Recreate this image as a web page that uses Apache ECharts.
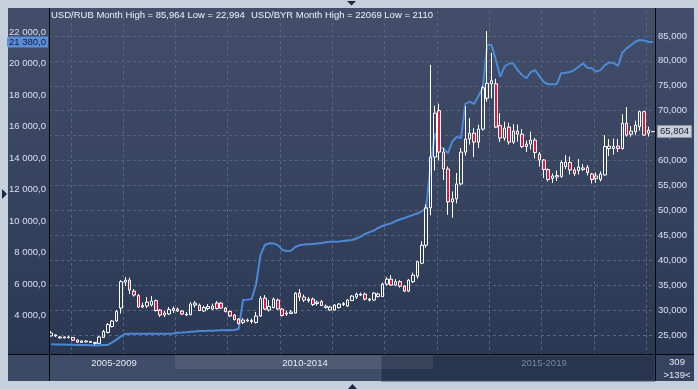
<!DOCTYPE html>
<html><head><meta charset="utf-8">
<script src="https://cdn.jsdelivr.net/npm/echarts@6/dist/echarts.min.js"></script>
<style>html,body{margin:0;padding:0;background:#c6d0dc;}#c{width:698px;height:389px;}</style>
</head><body><div id="c"></div>
<script>
// Months: Sep 2007 .. Mar 2019 (139 bars)
const startYear = 2007, startMonth = 9, barCount = 139;
const months = [];
for (let i = 0; i < barCount; i++) {
  const m = startMonth - 1 + i;
  const y = startYear + Math.floor(m / 12), mm = (m % 12) + 1;
  months.push(y + '-' + (mm < 10 ? '0' : '') + mm);
}
// USD/RUB monthly candles (right axis)
const rubOpen = [24.8,24.8,24.4,24.4,24.5,24.5,24.0,23.5,23.6,23.5,
23.3,23.3,24.5,25.5,26.7,27.8,30.4,35.6,36.0,33.8,
32.9,30.6,30.8,31.0,31.9,30.0,29.0,29.2,29.9,30.2,
29.8,29.0,29.1,31.0,31.0,29.8,30.3,30.2,31.4,31.4,
30.4,29.7,29.0,28.2,27.5,27.8,27.7,27.5,28.8,32.4,
30.0,30.5,32.0,30.2,29.2,29.3,29.4,33.4,32.0,31.9,
32.2,31.3,31.7,30.5,30.0,30.0,30.5,31.1,30.8,31.9,
32.6,33.0,33.2,32.2,32.0,32.7,32.7,35.2,36.2,35.0,
35.7,34.8,33.8,35.7,36.8,39.4,43.0,50.5,60.7,70.0,
61.7,58.3,51.7,52.3,55.3,61.7,64.3,65.5,63.7,66.3,
72.5,75.4,75.4,67.0,64.5,66.7,63.7,65.9,65.3,62.8,
63.3,64.1,61.3,60.1,58.2,56.4,56.7,56.8,58.8,59.6,
58.1,58.0,58.2,58.6,57.3,56.4,56.2,57.1,62.4,62.4,
62.9,62.4,67.5,65.3,65.8,66.8,69.8,65.5,65.8];
const rubClose = [25.4,25.0,24.6,24.6,24.6,23.95,23.55,23.8,23.8,23.7,
23.5,24.6,25.7,27.1,27.8,29.7,35.7,36.0,34.0,33.0,
30.6,30.9,31.6,31.8,29.9,29.0,29.4,30.1,30.3,29.8,
29.2,29.2,31.2,31.4,29.9,30.5,30.7,30.8,30.3,30.4,
29.7,28.8,28.1,27.3,28.0,28.0,27.9,28.8,32.3,30.2,
30.7,32.2,30.2,28.9,29.4,29.6,33.4,32.6,32.6,32.2,
31.1,31.6,30.9,30.8,30.6,31.0,31.2,31.3,32.0,32.8,
33.2,33.2,32.2,32.0,33.4,33.2,35.2,36.2,35.0,35.7,
34.8,33.8,36.0,37.0,39.7,43.0,50.5,60.7,69.5,61.7,
58.3,51.7,52.3,55.3,61.7,64.3,65.5,63.7,66.3,74.6,
75.5,76.0,66.7,64.5,66.5,63.7,65.9,65.3,62.8,63.3,
64.1,61.6,60.1,58.2,56.2,56.9,57.0,59.6,59.7,58.1,
57.4,58.7,58.5,57.6,56.2,56.9,57.3,62.8,62.9,62.8,
62.4,67.5,65.1,65.9,67.1,69.8,65.1,66.1,65.804];
const rubLow = [24.7,24.6,24.3,24.3,24.3,23.8,23.4,23.4,23.5,23.4,
22.994,23.2,24.4,25.3,26.5,27.6,29.3,34.8,33.2,32.7,
30.4,30.4,30.4,30.7,29.7,28.6,28.6,29.0,29.4,29.6,
29.0,28.8,28.9,30.5,29.8,29.6,30.0,30.0,30.1,30.2,
29.5,28.6,27.9,27.1,27.2,27.6,27.3,27.3,28.6,30.0,
29.7,30.3,30.0,28.7,28.8,29.2,29.3,31.8,31.6,31.5,
30.8,30.9,30.8,30.3,29.8,29.9,30.3,30.8,30.6,31.8,
32.2,32.8,31.9,31.7,31.8,32.5,32.6,34.9,34.9,34.8,
34.5,33.6,33.6,35.4,36.3,39.2,42.5,49.0,58.0,60.0,
56.1,49.1,48.5,51.4,55.0,61.0,63.2,60.7,62.5,66.0,
71.8,72.5,66.5,63.7,64.0,63.2,63.3,63.8,62.5,61.7,
62.2,60.4,58.8,56.5,55.8,55.5,55.9,56.5,58.3,57.2,
56.9,57.2,57.9,57.0,55.4,55.5,55.8,57.0,60.9,61.2,
61.7,62.2,64.8,64.8,65.1,66.0,65.0,64.8,65.75];
const rubHigh = [25.8,25.1,24.8,24.7,24.8,24.6,24.1,23.9,23.9,23.8,
23.6,24.8,26.0,27.4,28.0,30.0,36.0,36.6,36.5,34.2,
33.2,31.5,32.6,32.8,32.1,30.2,29.8,30.6,30.7,30.5,
30.0,29.6,31.6,31.8,31.3,30.9,31.2,31.3,31.8,31.6,
30.6,29.9,29.2,28.4,28.4,28.3,28.3,29.6,32.8,33.0,
32.0,32.5,32.3,30.4,29.9,30.0,33.6,34.2,33.1,32.6,
32.5,31.9,32.0,31.1,30.8,31.2,31.4,31.6,32.2,33.0,
33.5,33.5,33.5,32.4,33.6,33.5,35.5,36.6,37.0,36.2,
36.0,35.0,36.2,37.5,39.9,43.8,51.2,79.2,71.0,71.4,
62.5,58.8,53.8,57.5,62.5,70.9,68.5,66.5,67.2,75.0,
85.964,81.6,76.4,69.5,67.8,67.6,67.3,67.2,66.3,64.0,
65.8,64.5,61.7,60.3,58.4,57.4,58.0,60.0,61.1,60.8,
58.6,60.3,59.3,59.1,57.5,57.6,57.8,65.1,64.3,64.4,
64.3,69.3,70.7,66.9,68.0,70.0,69.9,66.8,65.85];
// USD/BYR monthly line (left axis)
const byrClose = [2180,2175,2170,2165,2160,2150,2140,2130,2130,2125,
2110,2125,2135,2140,2300,2480,2690,2840,2850,2855,
2860,2855,2850,2845,2850,2850,2855,2860,2870,2920,
2930,2950,2980,3000,3020,3030,3045,3050,3060,3070,
3070,3080,3090,3150,5000,5020,5060,6000,7850,8490,
8600,8590,8480,8180,8110,8120,8360,8480,8520,8540,
8560,8590,8620,8670,8700,8700,8710,8740,8780,8810,
8900,9020,9190,9310,9410,9570,9700,9790,9870,10010,
10110,10200,10300,10400,10490,10620,10840,13500,15580,14710,
14620,14330,15060,15350,15290,17450,17590,17450,17950,18460,
21190,21190,20240,19180,19820,20020,20020,19600,19290,19080,
19480,19600,19220,18840,18700,18700,18720,19400,19430,19480,
19600,19820,20030,19750,19710,19500,19600,19920,20080,20050,
19860,20690,20980,21190,21400,21510,21480,21400,21380];
const navLabels = ['2005-2009', '2010-2014', '2015-2019'];
const titleRub = 'USD/RUB Month High = 85,964 Low = 22,994';
const titleByr = 'USD/BYR Month High = 22069 Low = 2110';

const candles = rubOpen.map((o, i) => [o, rubClose[i], rubLow[i], rubHigh[i]]);
const FONT = 'Liberation Sans';
function fmtLeft(v) {
  const s = Math.round(v).toString().replace(/\B(?=(\d{3})+(?!\d))/g, ' ');
  return s + ',0';
}
function fmtRight(v) { return v.toFixed(3).replace('.', ','); }

const chart = echarts.init(document.getElementById('c'), null, {renderer: 'canvas'});
const gridColor = '#56647f';
const hidden = {color: 'rgba(0,0,0,0)', width: 0};
const option = {
  animation: false,
  backgroundColor: '#c6d0dc',
  title: [
    {text: titleRub, left: 51, top: 10, padding: 0, textStyle: {color: '#eef2f8', fontSize: 9.5, fontWeight: 'normal', fontFamily: FONT}},
    {text: titleByr, left: 251, top: 10, padding: 0, textStyle: {color: '#eef2f8', fontSize: 9.5, fontWeight: 'normal', fontFamily: FONT}}
  ],
  grid: {left: 49, top: 11, width: 606, height: 343},
  xAxis: {
    type: 'category', data: months, boundaryGap: true,
    axisLine: {show: false}, axisTick: {show: false}, axisLabel: {show: false},
    splitLine: {show: true, interval: (i, v) => v.slice(5) === '02',
      lineStyle: {color: gridColor, type: [3, 3], width: 1}}
  },
  yAxis: [
    {type: 'value', position: 'left', min: 1566, max: 23353, splitNumber: 11,
     axisLine: {show: false}, axisTick: {show: false}, splitLine: {show: false},
     axisLabel: {color: '#d6e0f0', fontSize: 9.5, fontFamily: FONT, margin: 3,
       showMinLabel: false, showMaxLabel: false,
       formatter: v => (v < 3000 ? '' : fmtLeft(v))}},
    {type: 'value', position: 'right', min: 21.18, max: 90, splitNumber: 14,
     axisLine: {show: false}, axisTick: {show: false},
     splitLine: {show: true, showMinLine: false, showMaxLine: false,
       lineStyle: {color: gridColor, type: [3, 3], width: 1}},
     axisLabel: {color: '#d6e0f0', fontSize: 9.5, fontFamily: FONT, margin: 3,
       showMinLabel: false, showMaxLabel: false, formatter: v => fmtRight(v)}}
  ],
  series: [
    {type: 'line', name: 'USD/BYR', yAxisIndex: 0, data: byrClose, showSymbol: false,
     lineStyle: {color: '#4c89d6', width: 2}, z: 2,
     markLine: {silent: true, symbol: ['none', 'none'], lineStyle: hidden,
       data: [{yAxis: byrClose[byrClose.length - 1]}],
       label: {show: true, position: 'start', distance: 1, formatter: '21 380,0', color: '#0e1d3a',
         backgroundColor: '#5a8dd6', borderRadius: [2, 0, 0, 2], padding: [1, 2, 0, 2], fontSize: 9.5, fontFamily: FONT}}},
    {type: 'candlestick', name: 'USD/RUB', yAxisIndex: 1, data: candles, barWidth: 3, z: 3,
     itemStyle: {color: 'rgba(0,0,0,0)', color0: '#e5173f', borderColor: '#ffffff', borderColor0: '#ffffff', borderWidth: 1},
     markLine: {silent: true, symbol: ['none', 'none'], lineStyle: hidden,
       data: [{yAxis: rubClose[rubClose.length - 1]}],
       label: {show: true, position: 'end', distance: 3, formatter: '65,804', color: '#1a2233',
         backgroundColor: '#c9ced8', borderColor: '#8c95a6', borderWidth: 1,
         padding: [1, 2, 0, 2], fontSize: 9.5, fontFamily: FONT}}}
  ],
  graphic: [
    {type: 'rect', z: -100, shape: {x: 8, y: 8, width: 686, height: 346},
     style: {fill: new echarts.graphic.LinearGradient(0, 0, 0, 1, [{offset: 0, color: '#434f6a'}, {offset: 1, color: '#2b3854'}])}},
    {type: 'rect', z: -100, shape: {x: 8, y: 355, width: 41, height: 26}, style: {fill: '#3c4965'}},
    {type: 'rect', z: -100, shape: {x: 49, y: 355, width: 332, height: 26}, style: {fill: '#404d69'}},
    {type: 'rect', z: -100, shape: {x: 381, y: 355, width: 274, height: 26}, style: {fill: '#28354f', stroke: '#46536e'}},
    {type: 'rect', z: -99, shape: {x: 175, y: 355, width: 258, height: 14}, style: {fill: 'rgba(255,255,255,0.08)'}},
    {type: 'rect', z: -100, shape: {x: 655, y: 355, width: 39, height: 26}, style: {fill: '#36435f'}},
    {type: 'line', z: 100, shape: {x1: 49.5, y1: 8, x2: 49.5, y2: 381}, style: {stroke: '#05070c', lineWidth: 1}},
    {type: 'line', z: 100, shape: {x1: 655.5, y1: 8, x2: 655.5, y2: 381}, style: {stroke: '#05070c', lineWidth: 1}},
    {type: 'line', z: 100, shape: {x1: 8, y1: 354.5, x2: 694, y2: 354.5}, style: {stroke: '#05070c', lineWidth: 1}},
    {type: 'text', z: 100, x: 114, y: 363, style: {text: navLabels[0], fill: '#e4eaf4', font: '9.5px "Liberation Sans"', textAlign: 'center', textVerticalAlign: 'middle'}},
    {type: 'text', z: 100, x: 305, y: 363, style: {text: navLabels[1], fill: '#e4eaf4', font: '9.5px "Liberation Sans"', textAlign: 'center', textVerticalAlign: 'middle'}},
    {type: 'text', z: 100, x: 544, y: 363, style: {text: navLabels[2], fill: '#7a87a0', font: '9.5px "Liberation Sans"', textAlign: 'center', textVerticalAlign: 'middle'}},
    {type: 'text', z: 100, x: 677, y: 362, style: {text: '309', fill: '#e4eaf4', font: '9.5px "Liberation Sans"', textAlign: 'center', textVerticalAlign: 'middle'}},
    {type: 'text', z: 100, x: 677, y: 375, style: {text: '>139<', fill: '#e4eaf4', font: '9.5px "Liberation Sans"', textAlign: 'center', textVerticalAlign: 'middle'}},
    {type: 'polygon', z: 100, shape: {points: [[347, 1], [356, 1], [351.5, 5.5]]}, style: {fill: '#1e2940'}},
    {type: 'polygon', z: 100, shape: {points: [[348, 389], [357, 389], [352.5, 384]]}, style: {fill: '#1e2940'}},
    {type: 'polygon', z: 100, shape: {points: [[2, 189], [2, 199], [7, 194]]}, style: {fill: '#1e2940'}}
  ]
};
chart.setOption(option);
</script>
</body></html>
